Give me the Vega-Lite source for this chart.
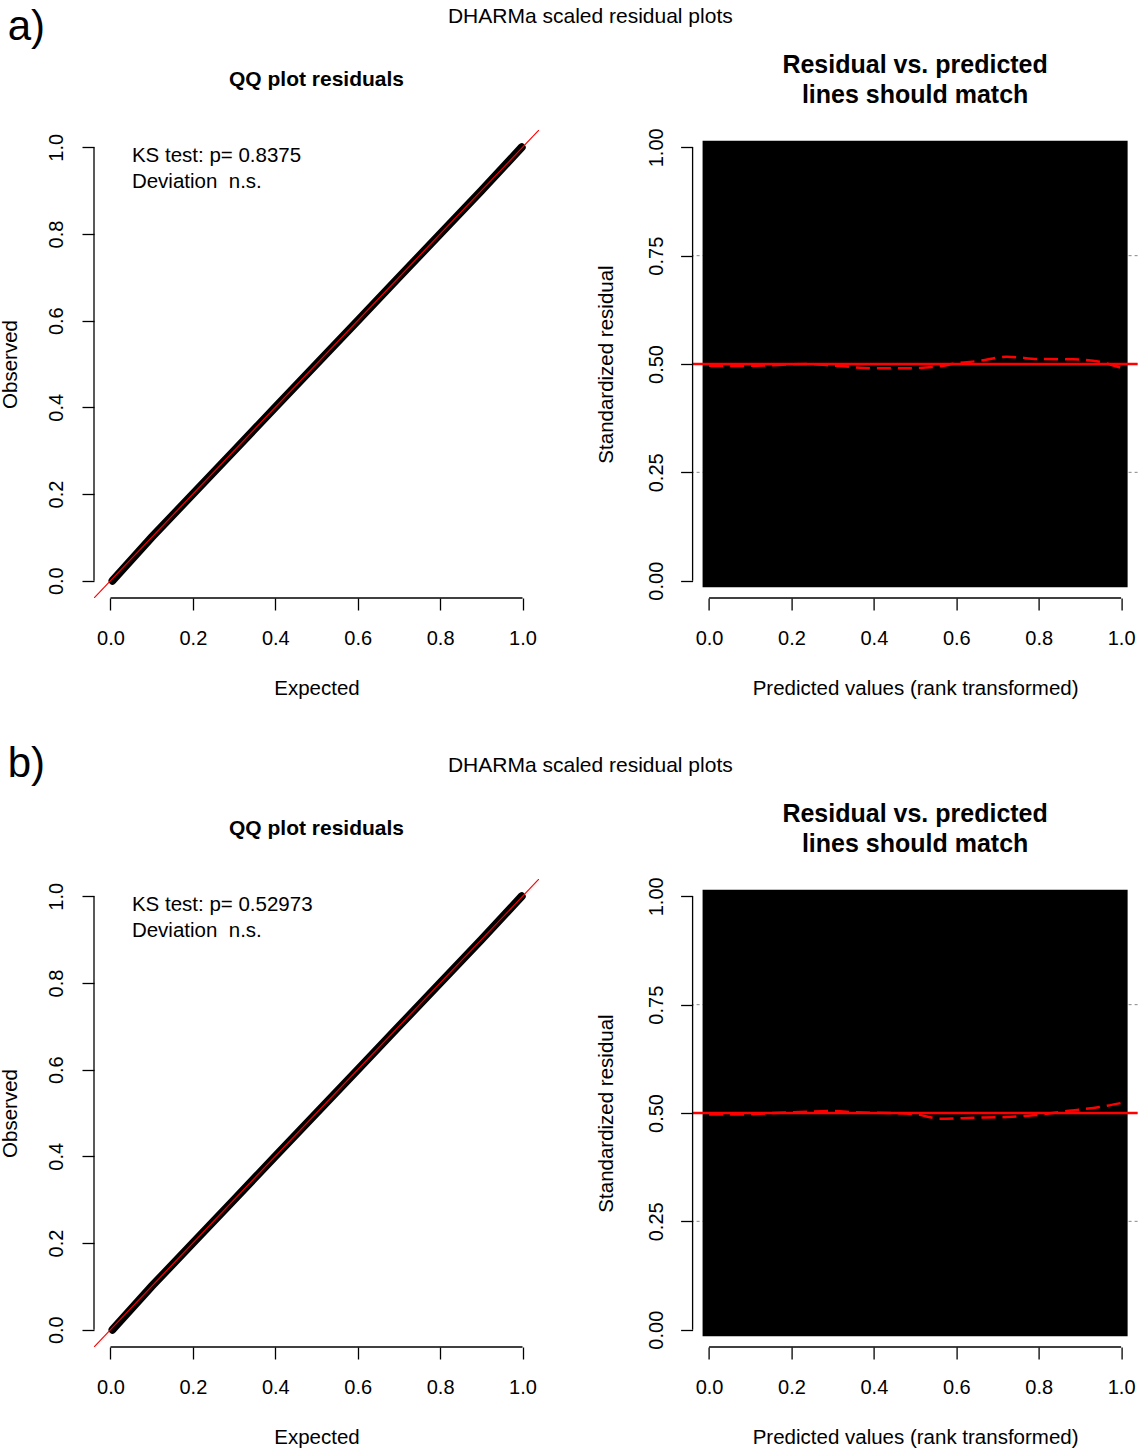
{
  "$schema": "https://vega.github.io/schema/vega-lite/v6.json",
  "background": "white",
  "padding": {"left": 0, "top": 5, "right": 0, "bottom": 0},
  "config": {
    "font": "Liberation Sans",
    "view": {"stroke": null},
    "axis": {"domain": false, "grid": false, "tickColor": "#000", "tickWidth": 1.3, "tickSize": 12, "labelColor": "#000", "labelFontSize": 20, "titleColor": "#000", "titleFontSize": 20.5, "titleFontWeight": "normal", "labelFlush": false, "labelOverlap": false, "labelBound": false},
    "axisX": {"labelPadding": 18, "titlePadding": 30},
    "axisY": {"labelAngle": 270, "labelAlign": "center", "labelBaseline": "bottom"},
    "title": {"color": "#000"},
    "text": {"color": "#000"}
  },
  "datasets": {
    "qqA": [{"expected":0.005,"observed":0},{"expected":0.1,"observed":0.1},{"expected":0.2,"observed":0.2},{"expected":0.3,"observed":0.3},{"expected":0.4,"observed":0.4},{"expected":0.5,"observed":0.5},{"expected":0.6,"observed":0.6},{"expected":0.7,"observed":0.7},{"expected":0.8,"observed":0.8},{"expected":0.9,"observed":0.9},{"expected":0.998,"observed":1}],
    "qqB": [{"expected":0.005,"observed":0},{"expected":0.1,"observed":0.1},{"expected":0.2,"observed":0.2},{"expected":0.3,"observed":0.3},{"expected":0.4,"observed":0.4},{"expected":0.5,"observed":0.5},{"expected":0.6,"observed":0.6},{"expected":0.7,"observed":0.7},{"expected":0.8,"observed":0.8},{"expected":0.9,"observed":0.9},{"expected":0.998,"observed":1}],
    "dashA": [{"pred":0,"q50":0.496},{"pred":0.033,"q50":0.4953},{"pred":0.115,"q50":0.496},{"pred":0.236,"q50":0.4999},{"pred":0.317,"q50":0.4953},{"pred":0.398,"q50":0.49},{"pred":0.479,"q50":0.49},{"pred":0.56,"q50":0.495},{"pred":0.601,"q50":0.5015},{"pred":0.657,"q50":0.5075},{"pred":0.722,"q50":0.5167},{"pred":0.803,"q50":0.5114},{"pred":0.883,"q50":0.5107},{"pred":0.948,"q50":0.505},{"pred":1.0,"q50":0.491}],
    "dashB": [{"pred":0,"q50":0.4963},{"pred":0.075,"q50":0.4963},{"pred":0.155,"q50":0.5},{"pred":0.236,"q50":0.503},{"pred":0.3,"q50":0.5045},{"pred":0.357,"q50":0.5015},{"pred":0.438,"q50":0.5},{"pred":0.503,"q50":0.497},{"pred":0.56,"q50":0.4869},{"pred":0.641,"q50":0.489},{"pred":0.722,"q50":0.4908},{"pred":0.786,"q50":0.4946},{"pred":0.868,"q50":0.5046},{"pred":0.948,"q50":0.5138},{"pred":1.0,"q50":0.523}],
    "guides": [{"level":0.25},{"level":0.5},{"level":0.75}]
  },
  "bounds": "flush",
  "columns": 2,
  "spacing": {"row": 281, "column": 153.6},
  "concat": [
    {
      "width": 445, "height": 468,
      "title": {"text": "QQ plot residuals", "fontSize": 21, "fontWeight": "bold", "anchor": "middle", "frame": "group", "baseline": "alphabetic", "offset": -101.8},
      "layer": [
        {"data": {"name": "qqA"}, "mark": {"type": "line", "color": "#000", "strokeWidth": 8, "strokeCap": "round"},
         "encoding": {
           "x": {"field": "expected", "type": "quantitative", "scale": {"domain": [-0.04, 1.04], "nice": false, "zero": false}, "axis": {"title": "Expected", "values": [0,0.2,0.4,0.6,0.8,1], "format": ".1f"}},
           "y": {"field": "observed", "type": "quantitative", "scale": {"domain": [-0.04, 1.04], "nice": false, "zero": false}, "axis": {"title": "Observed", "values": [0,0.2,0.4,0.6,0.8,1], "format": ".1f", "labelPadding": 15.3, "titlePadding": 26.5}}
         }},
        {"data": {"values": [{}]}, "mark": {"type": "rule", "color": "#ff0000", "strokeWidth": 1.2, "clip": true},
         "encoding": {"x": {"datum": -0.04}, "y": {"datum": -0.04}, "x2": {"datum": 1.04}, "y2": {"datum": 1.04}}},
        {"data": {"values": [{}]}, "mark": {"type": "rule", "color": "#000", "strokeWidth": 1.3},
         "encoding": {"x": {"datum": 0}, "x2": {"datum": 1}, "y": {"datum": -0.04}}},
        {"data": {"values": [{}]}, "mark": {"type": "rule", "color": "#000", "strokeWidth": 1.3},
         "encoding": {"y": {"datum": 0}, "y2": {"datum": 1}, "x": {"datum": -0.04}}},
        {"data": {"values": [{}]}, "mark": {"type": "text", "align": "left", "baseline": "alphabetic", "fontSize": 20.5, "lineHeight": 26, "text": ["KS test: p= 0.8375", "Deviation\u00a0 n.s."]},
         "encoding": {"x": {"datum": 0.052}, "y": {"datum": 0.967}}},
        {"data": {"values": [{}]}, "mark": {"type": "text", "align": "left", "baseline": "alphabetic", "fontSize": 42, "text": "a)"},
         "encoding": {"x": {"datum": -0.2493}, "y": {"datum": 1.2473}}},
        {"data": {"values": [{}]}, "mark": {"type": "text", "align": "center", "baseline": "alphabetic", "fontSize": 21, "text": "DHARMa scaled residual plots"},
         "encoding": {"x": {"datum": 1.1646}, "y": {"datum": 1.2877}}}
      ]
    },
    {
      "width": 445, "height": 468,
      "title": {"text": ["Residual vs. predicted", "lines should match"], "fontSize": 25, "fontWeight": "bold", "lineHeight": 30, "anchor": "middle", "frame": "group", "baseline": "alphabetic", "offset": 0},
      "layer": [
        {"data": {"name": "guides"}, "mark": {"type": "rule", "color": "#888", "strokeWidth": 1, "strokeDash": [3, 3]},
         "encoding": {"y": {"field": "level", "type": "quantitative"}}},
        {"data": {"values": [{}]}, "mark": {"type": "rect", "color": "#000", "stroke": "#000", "strokeWidth": 13, "strokeJoin": "miter"},
         "encoding": {"x": {"datum": 0}, "x2": {"datum": 1}, "y": {"datum": 0}, "y2": {"datum": 1}}},
        {"data": {"values": [{}]}, "mark": {"type": "rule", "color": "#ff0000", "strokeWidth": 2.5},
         "encoding": {"y": {"datum": 0.5}}},
        {"data": {"name": "dashA"}, "mark": {"type": "line", "color": "#ff0000", "strokeWidth": 2.5, "strokeDash": [14, 7], "interpolate": "monotone"},
         "encoding": {
           "x": {"field": "pred", "type": "quantitative", "scale": {"domain": [-0.04, 1.04], "nice": false, "zero": false}, "axis": {"title": "Predicted values (rank transformed)", "values": [0,0.2,0.4,0.6,0.8,1], "format": ".1f"}},
           "y": {"field": "q50", "type": "quantitative", "scale": {"domain": [-0.04, 1.04], "nice": false, "zero": false}, "axis": {"title": "Standardized residual", "values": [0,0.25,0.5,0.75,1], "format": ".2f", "labelPadding": 14.1, "titlePadding": 30.4}}
         }},
        {"data": {"values": [{}]}, "mark": {"type": "rule", "color": "#000", "strokeWidth": 1.3},
         "encoding": {"x": {"datum": 0}, "x2": {"datum": 1}, "y": {"datum": -0.04}}},
        {"data": {"values": [{}]}, "mark": {"type": "rule", "color": "#000", "strokeWidth": 1.3},
         "encoding": {"y": {"datum": 0}, "y2": {"datum": 1}, "x": {"datum": -0.04}}}
      ]
    },
    {
      "width": 445, "height": 468,
      "title": {"text": "QQ plot residuals", "fontSize": 21, "fontWeight": "bold", "anchor": "middle", "frame": "group", "baseline": "alphabetic", "offset": -113.1},
      "layer": [
        {"data": {"name": "qqB"}, "mark": {"type": "line", "color": "#000", "strokeWidth": 8, "strokeCap": "round"},
         "encoding": {
           "x": {"field": "expected", "type": "quantitative", "scale": {"domain": [-0.04, 1.04], "nice": false, "zero": false}, "axis": {"title": "Expected", "values": [0,0.2,0.4,0.6,0.8,1], "format": ".1f"}},
           "y": {"field": "observed", "type": "quantitative", "scale": {"domain": [-0.04, 1.04], "nice": false, "zero": false}, "axis": {"title": "Observed", "values": [0,0.2,0.4,0.6,0.8,1], "format": ".1f", "labelPadding": 15.3, "titlePadding": 26.5}}
         }},
        {"data": {"values": [{}]}, "mark": {"type": "rule", "color": "#ff0000", "strokeWidth": 1.2, "clip": true},
         "encoding": {"x": {"datum": -0.04}, "y": {"datum": -0.04}, "x2": {"datum": 1.04}, "y2": {"datum": 1.04}}},
        {"data": {"values": [{}]}, "mark": {"type": "rule", "color": "#000", "strokeWidth": 1.3},
         "encoding": {"x": {"datum": 0}, "x2": {"datum": 1}, "y": {"datum": -0.04}}},
        {"data": {"values": [{}]}, "mark": {"type": "rule", "color": "#000", "strokeWidth": 1.3},
         "encoding": {"y": {"datum": 0}, "y2": {"datum": 1}, "x": {"datum": -0.04}}},
        {"data": {"values": [{}]}, "mark": {"type": "text", "align": "left", "baseline": "alphabetic", "fontSize": 20.5, "lineHeight": 26, "text": ["KS test: p= 0.52973", "Deviation\u00a0 n.s."]},
         "encoding": {"x": {"datum": 0.052}, "y": {"datum": 0.967}}},
        {"data": {"values": [{}]}, "mark": {"type": "text", "align": "left", "baseline": "alphabetic", "fontSize": 42, "text": "b)"},
         "encoding": {"x": {"datum": -0.2493}, "y": {"datum": 1.275}}},
        {"data": {"values": [{}]}, "mark": {"type": "text", "align": "center", "baseline": "alphabetic", "fontSize": 21, "text": "DHARMa scaled residual plots"},
         "encoding": {"x": {"datum": 1.1646}, "y": {"datum": 1.2877}}}
      ]
    },
    {
      "width": 445, "height": 468,
      "title": {"text": ["Residual vs. predicted", "lines should match"], "fontSize": 25, "fontWeight": "bold", "lineHeight": 30, "anchor": "middle", "frame": "group", "baseline": "alphabetic", "offset": 0},
      "layer": [
        {"data": {"name": "guides"}, "mark": {"type": "rule", "color": "#888", "strokeWidth": 1, "strokeDash": [3, 3]},
         "encoding": {"y": {"field": "level", "type": "quantitative"}}},
        {"data": {"values": [{}]}, "mark": {"type": "rect", "color": "#000", "stroke": "#000", "strokeWidth": 13, "strokeJoin": "miter"},
         "encoding": {"x": {"datum": 0}, "x2": {"datum": 1}, "y": {"datum": 0}, "y2": {"datum": 1}}},
        {"data": {"values": [{}]}, "mark": {"type": "rule", "color": "#ff0000", "strokeWidth": 2.5},
         "encoding": {"y": {"datum": 0.5}}},
        {"data": {"name": "dashB"}, "mark": {"type": "line", "color": "#ff0000", "strokeWidth": 2.5, "strokeDash": [14, 7], "interpolate": "monotone"},
         "encoding": {
           "x": {"field": "pred", "type": "quantitative", "scale": {"domain": [-0.04, 1.04], "nice": false, "zero": false}, "axis": {"title": "Predicted values (rank transformed)", "values": [0,0.2,0.4,0.6,0.8,1], "format": ".1f"}},
           "y": {"field": "q50", "type": "quantitative", "scale": {"domain": [-0.04, 1.04], "nice": false, "zero": false}, "axis": {"title": "Standardized residual", "values": [0,0.25,0.5,0.75,1], "format": ".2f", "labelPadding": 14.1, "titlePadding": 30.4}}
         }},
        {"data": {"values": [{}]}, "mark": {"type": "rule", "color": "#000", "strokeWidth": 1.3},
         "encoding": {"x": {"datum": 0}, "x2": {"datum": 1}, "y": {"datum": -0.04}}},
        {"data": {"values": [{}]}, "mark": {"type": "rule", "color": "#000", "strokeWidth": 1.3},
         "encoding": {"y": {"datum": 0}, "y2": {"datum": 1}, "x": {"datum": -0.04}}}
      ]
    }
  ]
}
